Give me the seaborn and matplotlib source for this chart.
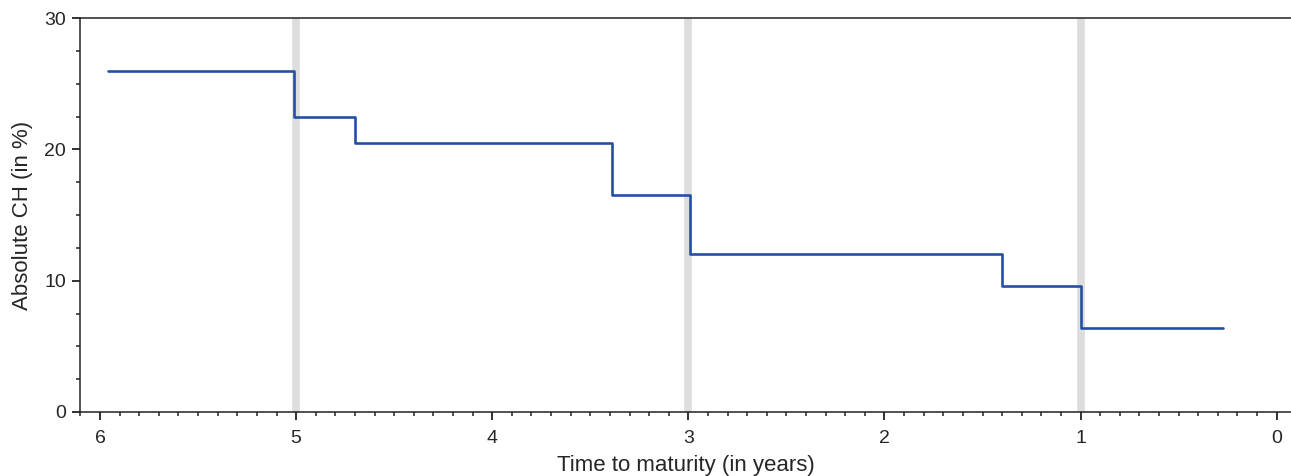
import numpy as np
import pandas as pd
import matplotlib
matplotlib.use('Agg')
import matplotlib.pyplot as plt
from matplotlib.ticker import MultipleLocator
import seaborn as sns

# step breakpoints (time to maturity, years) and CH level after each breakpoint
maturity = [5.958, 5.01, 4.70, 3.39, 2.99, 1.40, 1.00, 0.272]
abs_ch = [26.0, 22.5, 20.5, 16.5, 12.0, 9.6, 6.4, 6.4]
highlight_years = [5, 3, 1]

sns.set_style('ticks')
plt.rcParams['font.family'] = ['Liberation Sans', 'DejaVu Sans']

df = pd.DataFrame({'maturity': maturity, 'abs_ch': abs_ch})

fig = plt.figure(figsize=(12.91, 4.76), dpi=100)
ax = fig.add_axes([80 / 1291, 64 / 476, 1 - 80 / 1291, (412 - 18) / 476])

for yr in highlight_years:
    ax.axvline(yr, color='#dddddd', lw=5.5, zorder=0)

sns.lineplot(data=df, x='maturity', y='abs_ch', sort=False, drawstyle='steps-post',
             color='#2350a3', lw=1.9, ax=ax)

ax.set_xlim(6.102, -0.073)
ax.set_ylim(0, 30)
ax.xaxis.set_major_locator(MultipleLocator(1))
ax.xaxis.set_minor_locator(MultipleLocator(0.1))
ax.yaxis.set_major_locator(MultipleLocator(10))
ax.yaxis.set_minor_locator(MultipleLocator(2.5))
ax.tick_params(which='major', direction='out', length=6, width=1.3, labelsize=14,
               color='#222222', pad=4)
ax.tick_params(axis='x', which='major', pad=7)
ax.tick_params(which='minor', direction='out', length=3, width=1.1, color='#222222')

ax.spines['right'].set_visible(False)
for s in ['left', 'bottom', 'top']:
    ax.spines[s].set_linewidth(1.1)
    ax.spines[s].set_color('#222222')

ax.set_xlabel('Time to maturity (in years)', fontsize=16, labelpad=6)
ax.set_ylabel('Absolute CH (in %)', fontsize=16, labelpad=8)

fig.savefig('out.png', dpi=100)
